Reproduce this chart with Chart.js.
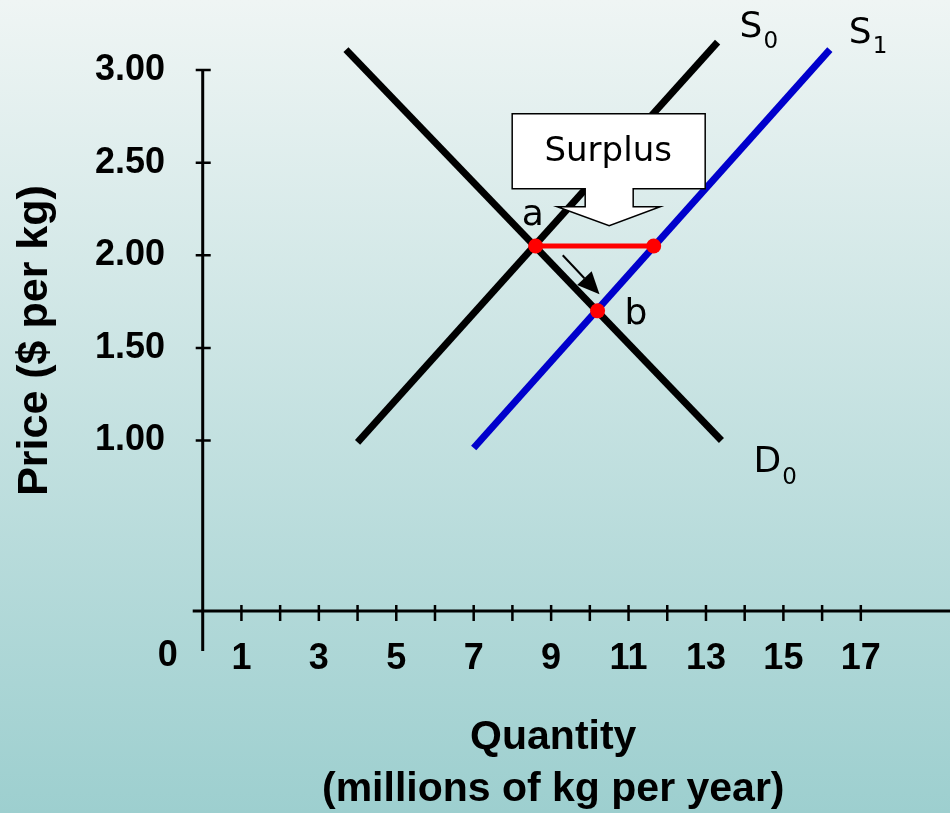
<!DOCTYPE html>
<html>
<head>
<meta charset="utf-8">
<title>Surplus after a supply increase</title>
<script src="https://cdn.jsdelivr.net/npm/chart.js@4/dist/chart.umd.min.js"></script>
<style>
  html, body { margin: 0; padding: 0; overflow: hidden; }
  canvas { display: block; }
</style>
</head>
<body>
<canvas id="market" width="950" height="813"></canvas>
<script>
// Curve end points as [quantity, price]
const demandD0 = [[3.7, 3.11], [13.4, 1.0]];
const supplyS0 = [[4.0, 0.99], [13.3, 3.15]];
const supplyS1 = [[7.0, 0.96], [16.2, 3.11]];

// Equilibria and the surplus at the old price
const pointA = [8.6, 2.05];
const surplusEnd = [11.65, 2.05];
const pointB = [10.2, 1.70];

// Movement arrow from a towards b
const moveFrom = [9.3, 2.0];
const moveTo = [10.25, 1.79];

// Where the "Surplus" callout points
const calloutTip = [10.5, 2.16];

// Axis ticks
const priceTicks = [1.00, 1.50, 2.00, 2.50, 3.00];
const quantityTicks = [1, 3, 5, 7, 9, 11, 13, 15, 17];
const quantityTickMarks = [1, 2, 3, 4, 5, 6, 7, 8, 9, 10, 11, 12, 13, 14, 15, 16, 17];

const toXY = pts => pts.map(p => ({ x: p[0], y: p[1] }));

const BOLD = '"Liberation Sans", Arial, Helvetica, sans-serif';
const LABEL = '"DejaVu Sans", Verdana, sans-serif';

function labelWithSub(ctx, main, sub, x, y, dx, dy) {
  ctx.font = '36px ' + LABEL;
  ctx.textAlign = 'left';
  ctx.textBaseline = 'alphabetic';
  ctx.fillText(main, x, y);
  const w = ctx.measureText(main).width;
  ctx.font = '23px ' + LABEL;
  ctx.fillText(sub, x + w + dx, y + dy);
}

const diagramOverlay = {
  id: 'diagramOverlay',
  beforeDraw(chart) {
    const { ctx, width, height } = chart;
    const g = ctx.createLinearGradient(0, 0, 0, height);
    g.addColorStop(0, '#eff5f4');
    g.addColorStop(1, '#9dcfcf');
    ctx.save();
    ctx.fillStyle = g;
    ctx.fillRect(0, 0, width, height);
    ctx.restore();
  },
  beforeDatasetsDraw(chart) {
    const { ctx } = chart;
    const xs = chart.scales.x, ys = chart.scales.y;
    const ox = xs.getPixelForValue(0);
    const oy = ys.getPixelForValue(ys.min);
    ctx.save();
    ctx.strokeStyle = '#000';
    ctx.lineCap = 'butt';
    // axis lines
    ctx.lineWidth = 3;
    ctx.beginPath();
    ctx.moveTo(ox, ys.getPixelForValue(3));
    ctx.lineTo(ox, oy + 40);
    ctx.moveTo(ox - 10, oy);
    ctx.lineTo(chart.width, oy);
    ctx.stroke();
    // tick marks
    ctx.lineWidth = 2.5;
    ctx.beginPath();
    priceTicks.forEach(v => {
      const py = ys.getPixelForValue(v);
      ctx.moveTo(ox - 7, py);
      ctx.lineTo(ox + 8, py);
    });
    quantityTickMarks.forEach(v => {
      const px = xs.getPixelForValue(v);
      ctx.moveTo(px, oy - 6);
      ctx.lineTo(px, oy + 10);
    });
    ctx.stroke();
    // origin label
    ctx.fillStyle = '#000';
    ctx.font = 'bold 36px ' + BOLD;
    ctx.textAlign = 'center';
    ctx.textBaseline = 'middle';
    ctx.fillText('0', ox - 35, oy + 45);
    ctx.restore();
  },
  afterDatasetsDraw(chart) {
    const { ctx } = chart;
    const xs = chart.scales.x, ys = chart.scales.y;
    const P = p => ({ x: xs.getPixelForValue(p[0]), y: ys.getPixelForValue(p[1]) });
    ctx.save();

    // "Surplus" down-arrow callout
    const t = P(calloutTip);
    ctx.beginPath();
    ctx.moveTo(t.x - 97, t.y - 112);
    ctx.lineTo(t.x + 96, t.y - 112);
    ctx.lineTo(t.x + 96, t.y - 37);
    ctx.lineTo(t.x + 24, t.y - 37);
    ctx.lineTo(t.x + 24, t.y - 19);
    ctx.lineTo(t.x + 51, t.y - 19);
    ctx.lineTo(t.x, t.y);
    ctx.lineTo(t.x - 52, t.y - 19);
    ctx.lineTo(t.x - 24, t.y - 19);
    ctx.lineTo(t.x - 24, t.y - 37);
    ctx.lineTo(t.x - 97, t.y - 37);
    ctx.closePath();
    ctx.fillStyle = '#ffffff';
    ctx.fill();
    ctx.strokeStyle = '#000';
    ctx.lineWidth = 1.5;
    ctx.lineJoin = 'miter';
    ctx.stroke();
    ctx.fillStyle = '#000';
    ctx.font = '34px ' + LABEL;
    ctx.textAlign = 'center';
    ctx.textBaseline = 'middle';
    ctx.fillText('Surplus', t.x - 1, t.y - 73);

    // arrow from a towards b
    const f = P(moveFrom), e = P(moveTo);
    const ang = Math.atan2(e.y - f.y, e.x - f.x);
    const headLen = 22, headHalf = 10;
    const bx = e.x - headLen * Math.cos(ang), by = e.y - headLen * Math.sin(ang);
    ctx.strokeStyle = '#000';
    ctx.lineWidth = 2;
    ctx.beginPath();
    ctx.moveTo(f.x, f.y);
    ctx.lineTo(bx, by);
    ctx.stroke();
    ctx.beginPath();
    ctx.moveTo(e.x, e.y);
    ctx.lineTo(bx + headHalf * Math.sin(ang), by - headHalf * Math.cos(ang));
    ctx.lineTo(bx - headHalf * Math.sin(ang), by + headHalf * Math.cos(ang));
    ctx.closePath();
    ctx.fillStyle = '#000';
    ctx.fill();

    // curve and point labels
    ctx.fillStyle = '#000';
    const s0 = P(supplyS0[1]);
    labelWithSub(ctx, 'S', '0', s0.x + 22, s0.y - 5, 1, 11);
    const s1 = P(supplyS1[1]);
    labelWithSub(ctx, 'S', '1', s1.x + 19, s1.y - 7, 1, 10);
    const d0 = P(demandD0[1]);
    labelWithSub(ctx, 'D', '0', d0.x + 32, d0.y + 31, 1, 12);

    ctx.font = '36px ' + LABEL;
    ctx.textAlign = 'left';
    ctx.textBaseline = 'alphabetic';
    const a = P(pointA);
    ctx.fillText('a', a.x - 14, a.y - 21);
    const b = P(pointB);
    ctx.fillText('b', b.x + 27, b.y + 13);

    ctx.restore();
  }
};

// lower "order" is painted on top
const lineSet = (pts, color, order) => ({
  data: toXY(pts),
  showLine: true,
  borderColor: color,
  borderWidth: 7,
  borderCapStyle: 'butt',
  pointRadius: 0,
  clip: false,
  order
});

new Chart(document.getElementById('market'), {
  type: 'scatter',
  data: {
    datasets: [
      lineSet(supplyS0, '#000000', 4),
      lineSet(demandD0, '#000000', 3),
      lineSet(supplyS1, '#0000cc', 2),
      {
        data: toXY([pointA, surplusEnd]),
        showLine: true,
        borderColor: '#ff0000',
        borderWidth: 5,
        pointRadius: 0,
        clip: false,
        order: 1
      },
      {
        data: toXY([pointA, surplusEnd, pointB]),
        showLine: false,
        pointRadius: 7.5,
        pointBackgroundColor: '#ff0000',
        pointBorderColor: '#ff0000',
        pointBorderWidth: 0,
        clip: false,
        order: 0
      }
    ]
  },
  options: {
    responsive: false,
    animation: false,
    events: [],
    layout: { padding: { top: 70, right: 0, bottom: 0, left: 0 } },
    plugins: {
      legend: { display: false },
      tooltip: { enabled: false }
    },
    scales: {
      x: {
        type: 'linear',
        position: 'bottom',
        min: -1,
        max: 19.11,
        grid: { display: false, drawTicks: false },
        border: { display: false },
        afterBuildTicks: s => { s.ticks = quantityTicks.map(v => ({ value: v })); },
        afterFit: s => { s.height = 202; },
        ticks: {
          autoSkip: false,
          maxRotation: 0,
          padding: 26,
          color: '#000',
          font: { family: BOLD, size: 36, weight: 'bold' }
        },
        title: {
          display: true,
          text: ['Quantity', '(millions of kg per year)'],
          color: '#000',
          font: { family: BOLD, size: 41, weight: 'bold', lineHeight: 1.27 },
          padding: { top: 0, bottom: -3 }
        }
      },
      y: {
        type: 'linear',
        position: 'left',
        min: 0.08,
        max: 3,
        grid: { display: false, drawTicks: false },
        border: { display: false },
        afterBuildTicks: s => { s.ticks = priceTicks.map(v => ({ value: v })); },
        afterFit: s => { s.width = 164; },
        ticks: {
          padding: -1,
          color: '#000',
          font: { family: BOLD, size: 36, weight: 'bold' },
          callback: v => Number(v).toFixed(2)
        },
        title: {
          display: true,
          text: 'Price ($ per kg)',
          color: '#000',
          font: { family: BOLD, size: 43, weight: 'bold' },
          padding: { top: 9, bottom: 0 }
        }
      }
    }
  },
  plugins: [diagramOverlay]
});
</script>
</body>
</html>
